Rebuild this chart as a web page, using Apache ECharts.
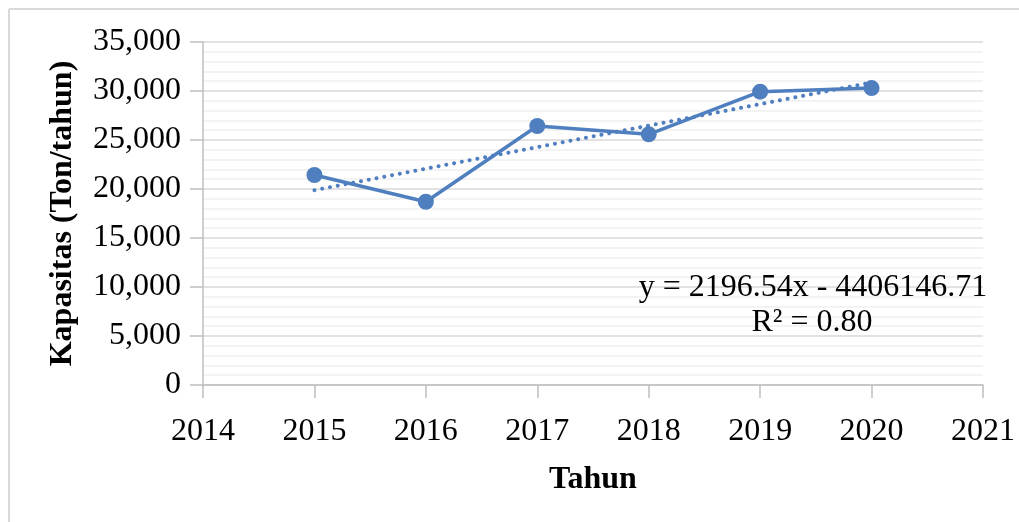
<!DOCTYPE html>
<html>
<head>
<meta charset="utf-8">
<script src="https://cdn.jsdelivr.net/npm/echarts@6/dist/echarts.min.js"></script>
<style>
  html, body { margin: 0; padding: 0; background: #fff; }
  #chart { width: 1019px; height: 522px; }
</style>
</head>
<body>
<div id="chart"></div>
<script>
// values
const years = [2015, 2016, 2017, 2018, 2019, 2020];
const capacity = [21430, 18700, 26430, 25580, 29930, 30300];
// linear trend, endpoints at 2015 and 2020
const trendYears = [2015, 2020];
const trendValues = [19880, 30860];
const equationText = 'y = 2196.54x - 4406146.71';
const r2Text = 'R² = 0.80';

const blue = '#4f7fbf';
const font = '"Liberation Serif", "Times New Roman", serif';

const chart = echarts.init(document.getElementById('chart'));

chart.setOption({
  animation: false,
  grid: { left: 203, right: 36, top: 42, bottom: 137 },
  xAxis: {
    type: 'value',
    min: 2014,
    max: 2021,
    interval: 1,
    name: 'Tahun',
    nameLocation: 'middle',
    nameGap: 79,
    nameTextStyle: { fontFamily: font, fontSize: 32, fontWeight: 'bold', color: '#000' },
    axisLine: { show: true, lineStyle: { color: '#bfbfbf', width: 1.5 } },
    axisTick: { show: true, length: 13, lineStyle: { color: '#bfbfbf', width: 1.5 } },
    axisLabel: {
      margin: 31,
      fontFamily: font, fontSize: 32, color: '#000',
      formatter: v => String(v)
    },
    splitLine: { show: false }
  },
  yAxis: {
    type: 'value',
    min: 0,
    max: 35000,
    interval: 5000,
    name: 'Kapasitas (Ton/tahun)',
    nameLocation: 'middle',
    nameGap: 124,
    nameTextStyle: { fontFamily: font, fontSize: 32, fontWeight: 'bold', color: '#000' },
    axisLine: { show: true, lineStyle: { color: '#bfbfbf', width: 1.5 } },
    axisTick: { show: true, length: 13, lineStyle: { color: '#bfbfbf', width: 1.5 } },
    axisLabel: { margin: 22, fontFamily: font, fontSize: 32, color: '#000' },
    splitLine: { show: true, lineStyle: { color: '#d9d9d9', width: 1.5 } },
    minorTick: { show: false, splitNumber: 5 },
    minorSplitLine: { show: true, lineStyle: { color: '#efefef', width: 1.5 } }
  },
  series: [
    {
      type: 'line',
      data: years.map((y, i) => [y, capacity[i]]),
      symbol: 'circle',
      symbolSize: 16,
      itemStyle: { color: blue },
      lineStyle: { color: blue, width: 3.5 },
      z: 3
    },
    {
      type: 'line',
      data: trendYears.map((y, i) => [y, trendValues[i]]),
      symbol: 'none',
      lineStyle: { color: blue, width: 4, type: [0.1, 7.8], cap: 'round' },
      z: 4
    }
  ],
  graphic: [
    {
      type: 'line',
      shape: { x1: 9, y1: 9, x2: 9, y2: 522 },
      style: { stroke: '#d9d9d9', lineWidth: 2 }
    },
    {
      type: 'line',
      shape: { x1: 9, y1: 9, x2: 1019, y2: 9 },
      style: { stroke: '#d9d9d9', lineWidth: 2 }
    },
    {
      type: 'text',
      x: 813, y: 288, z: 10,
      style: {
        text: equationText, fontFamily: font, fontSize: 32, fill: '#000',
        align: 'center', verticalAlign: 'middle'
      }
    },
    {
      type: 'text',
      x: 812, y: 323, z: 10,
      style: {
        text: r2Text, fontFamily: font, fontSize: 32, fill: '#000',
        align: 'center', verticalAlign: 'middle'
      }
    }
  ]
});
</script>
</body>
</html>
